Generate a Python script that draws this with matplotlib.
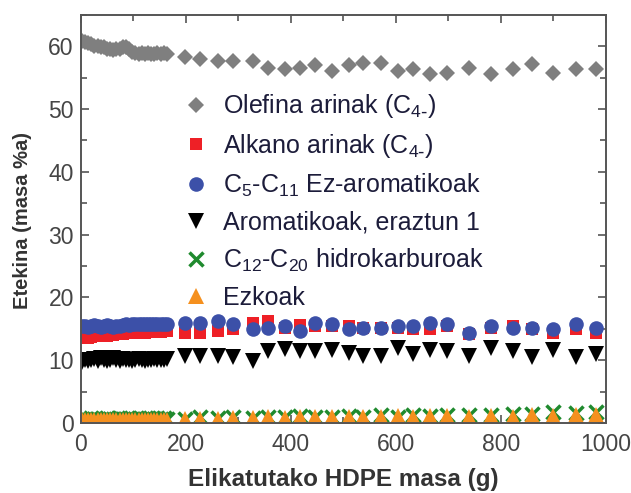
import matplotlib
matplotlib.use("Agg")
import matplotlib.pyplot as plt
from matplotlib.ticker import MultipleLocator

plt.rcParams['font.family'] = ['Liberation Sans', 'DejaVu Sans']
plt.rcParams['mathtext.default'] = 'regular'

# fed HDPE mass (g): dense start, then sparse samples
x_dense = [2, 8, 14, 20, 26, 32, 38, 44, 50, 56, 62, 68, 74, 80,
           86, 92, 98, 104, 110, 116, 122, 128, 134, 140, 146, 152, 158, 164]
x_sparse = [198, 227, 261, 290, 328, 357, 389, 418, 447, 479, 510, 538,
            571, 605, 632, 666, 698, 739, 781, 823, 859, 899, 943, 981]
mass = x_dense + x_sparse

olefins = [60.8, 60.6, 60.5, 60.4, 60.1, 60.0, 59.8, 59.8, 59.6, 59.5, 59.4, 59.6, 59.5, 59.8,
           59.9, 59.6, 59.1, 58.9, 58.8, 58.9, 58.8, 58.9, 58.8, 58.7, 58.9, 58.8, 58.9, 58.8,
           58.3, 58.0, 57.6, 57.7, 57.6, 56.6, 56.3, 56.6, 57.0, 56.0, 57.0, 57.3,
           57.4, 56.0, 56.4, 55.5, 55.8, 56.6, 55.6, 56.4, 57.2, 55.7, 56.3, 56.4]
alkanes = [13.5, 13.6, 13.6, 13.7, 13.8, 13.8, 13.9, 13.9, 13.9, 14.0, 14.0, 14.1, 14.1, 14.2,
           14.3, 14.3, 14.4, 14.4, 14.4, 14.5, 14.4, 14.5, 14.5, 14.5, 14.6, 14.5, 14.6, 14.6,
           14.4, 14.4, 14.7, 15.0, 16.0, 16.3, 15.2, 15.6, 15.5, 15.5, 15.5, 15.2,
           15.2, 15.2, 14.9, 14.9, 15.5, 14.2, 15.2, 15.5, 15.0, 14.4, 15.0, 14.4]
c5_c11 = [15.4, 15.5, 15.3, 15.4, 15.6, 15.4, 15.3, 15.5, 15.6, 15.4, 15.3, 15.4, 15.5, 15.6,
          15.7, 15.6, 15.7, 15.8, 15.7, 15.8, 15.7, 15.8, 15.8, 15.7, 15.8, 15.8, 15.7, 15.8,
          16.0, 16.0, 16.3, 15.8, 15.0, 15.2, 15.5, 14.7, 16.0, 15.8, 15.0, 15.2,
          15.2, 15.5, 15.5, 16.0, 15.8, 14.4, 15.5, 15.2, 15.2, 14.9, 15.8, 15.2]
aromatics = [9.7, 10.0, 9.8, 10.1, 10.2, 9.9, 10.3, 10.0, 9.9, 10.1, 10.4, 10.0, 9.9, 10.2,
             10.0, 10.1, 9.9, 10.0, 10.2, 10.0, 9.9, 10.1, 10.0, 10.2, 10.0, 10.1, 10.0, 10.2,
             10.7, 10.7, 10.7, 10.5, 9.9, 11.5, 11.8, 11.5, 11.5, 11.7, 11.2, 10.7,
             10.7, 12.0, 11.0, 11.7, 11.4, 10.7, 12.0, 11.4, 10.5, 11.7, 10.5, 11.0]
c12_c20 = [0.6, 0.7, 0.5, 0.8, 0.6, 0.7, 0.5, 0.7, 0.8, 0.6, 0.7, 0.5, 0.8, 0.6,
           0.7, 0.8, 0.6, 0.7, 0.8, 0.7, 0.6, 0.8, 0.7, 0.6, 0.8, 0.7, 0.8, 0.7,
           0.7, 0.9, 0.8, 0.9, 0.8, 1.0, 0.9, 1.1, 1.0, 1.0, 1.1, 0.9,
           1.2, 1.0, 1.2, 1.1, 1.3, 1.2, 1.3, 1.5, 1.4, 1.8, 1.6, 1.7]
waxes = [0.5, 0.4, 0.5, 0.5, 0.4, 0.5, 0.5, 0.4, 0.5, 0.5, 0.4, 0.5, 0.5, 0.4,
         0.5, 0.5, 0.4, 0.5, 0.5, 0.4, 0.5, 0.5, 0.4, 0.5, 0.5, 0.4, 0.5, 0.5,
         0.6, 0.7, 0.7, 0.8, 0.8, 0.9, 0.8, 0.9, 1.0, 0.9, 1.0, 1.0,
         1.0, 1.1, 1.0, 1.1, 1.1, 0.9, 1.1, 1.0, 1.2, 1.1, 1.3, 1.3]

labels = [r"Olefina arinak (C$_{4\text{-}}$)",
          r"Alkano arinak (C$_{4\text{-}}$)",
          "C$_{5}$-C$_{11}$ Ez-aromatikoak",
          "Aromatikoak, eraztun 1",
          "C$_{12}$-C$_{20}$ hidrokarburoak",
          "Ezkoak"]

fig = plt.figure(figsize=(6.31, 4.93), dpi=100)
ax = fig.add_axes([0.128, 0.142, 0.832, 0.828])

ax.plot(mass, olefins, 'D', color='#7f7f7f', ms=8, mew=0, label=labels[0])
ax.plot(mass, alkanes, 's', color='#ee2026', ms=9, mew=0, label=labels[1])
ax.plot(mass, c5_c11, 'o', color='#3c50a8', ms=10.5, mew=0, label=labels[2])
ax.plot(mass, aromatics, 'v', color='black', ms=11, mew=0, label=labels[3])
ax.plot(mass, c12_c20, 'x', color='#1f8a2e', ms=9.5, mew=2.5, label=labels[4])
ax.plot(mass, waxes, '^', color='#f5901e', ms=11.5, mew=0, label=labels[5])

ax.set_xlim(0, 1000)
ax.set_ylim(0, 65)
ax.xaxis.set_major_locator(MultipleLocator(200))
ax.xaxis.set_minor_locator(MultipleLocator(100))
ax.yaxis.set_major_locator(MultipleLocator(10))
ax.yaxis.set_minor_locator(MultipleLocator(5))
ax.tick_params(which='both', direction='in', top=True, right=True,
               colors='#555555', labelcolor='#454545', labelsize=16.5, width=1.2)
ax.tick_params(which='major', length=6)
ax.tick_params(which='minor', length=4)
ax.tick_params(axis='x', pad=7)
ax.tick_params(axis='y', pad=5)
for s in ax.spines.values():
    s.set_color('#555555')
    s.set_linewidth(1.4)

ax.set_xlabel("Elikatutako HDPE masa (g)", fontsize=17.5, fontweight='bold',
              color='#333333')
ax.set_ylabel("Etekina (masa %a)", fontsize=14.5, fontweight='bold',
              color='#333333')
ax.xaxis.set_label_coords(0.5, -0.11)
ax.yaxis.set_label_coords(-0.092, 0.495)

leg = ax.legend(loc='upper left', bbox_to_anchor=(0.15, 0.865), frameon=False,
                fontsize=18, handletextpad=0.55, labelspacing=0.47,
                handlelength=1.1, labelcolor='#1c1c3a')

fig.savefig("out.png", dpi=100)
